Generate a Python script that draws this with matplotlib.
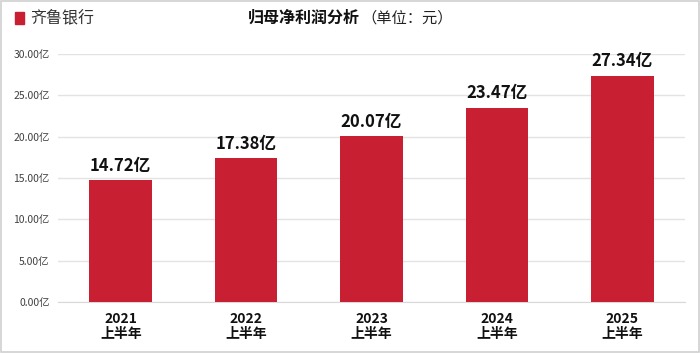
import matplotlib
matplotlib.use("Agg")
import matplotlib.pyplot as plt
from matplotlib.patches import Rectangle

plt.rcParams['font.family'] = ['Noto Sans CJK SC', 'DejaVu Sans']

years = ["2021", "2022", "2023", "2024", "2025"]
period = "上半年"
values = [14.72, 17.38, 20.07, 23.47, 27.34]
yticks = [0, 5, 10, 15, 20, 25, 30]
bar_color = "#C91F33"

fig = plt.figure(figsize=(7.0, 3.53), dpi=100)
ax = fig.add_axes([0.0829, 0.1445, 0.8957, 0.7025])

x = list(range(len(years)))
ax.bar(x, values, width=0.5, color=bar_color, zorder=3)
for xi, v in zip(x, values):
    ax.annotate(f"{v:.2f}亿", (xi, v), xytext=(0, 4), textcoords="offset points",
                ha="center", va="bottom", fontsize=12, fontweight="bold", color="#111111")

ax.set_xlim(-0.5, len(years) - 0.5)
ax.set_ylim(0, 30)
ax.set_yticks(yticks)
ax.set_yticklabels([f"{t:.2f}亿" for t in yticks], fontsize=7.5, color="#404040")
ax.set_xticks(x)
ax.set_xticklabels([f"{y}\n{period}" for y in years], fontsize=10, fontweight="bold",
                   color="#111111", linespacing=1.1)
ax.tick_params(axis="both", length=0)
ax.tick_params(axis="y", pad=6)
ax.tick_params(axis="x", pad=7)
ax.grid(axis="y", color="#e3e3e3", linewidth=1, zorder=0)
for s in ["top", "right", "left"]:
    ax.spines[s].set_visible(False)
ax.spines["bottom"].set_color("#d9d9d9")

fig.patches.append(Rectangle((0.002, 0.003), 0.996, 0.994, transform=fig.transFigure,
                             fill=False, edgecolor="#d0d0d0", linewidth=1.2))
fig.patches.append(Rectangle((15 / 700, 1 - 24 / 353), 9 / 700, 12 / 353,
                             transform=fig.transFigure, color=bar_color))
fig.text(30 / 700, 1 - 18 / 353, "齐鲁银行", fontsize=11.5, color="#333333", va="center", ha="left")
t1 = fig.text(248 / 700, 1 - 18 / 353, "归母净利润分析", fontsize=11.5, fontweight="bold",
              color="#111111", va="center", ha="left")
fig.text(361 / 700, 1 - 18 / 353, "（单位：元）", fontsize=11, color="#222222", va="center", ha="left")

fig.savefig("out.png", dpi=100)
